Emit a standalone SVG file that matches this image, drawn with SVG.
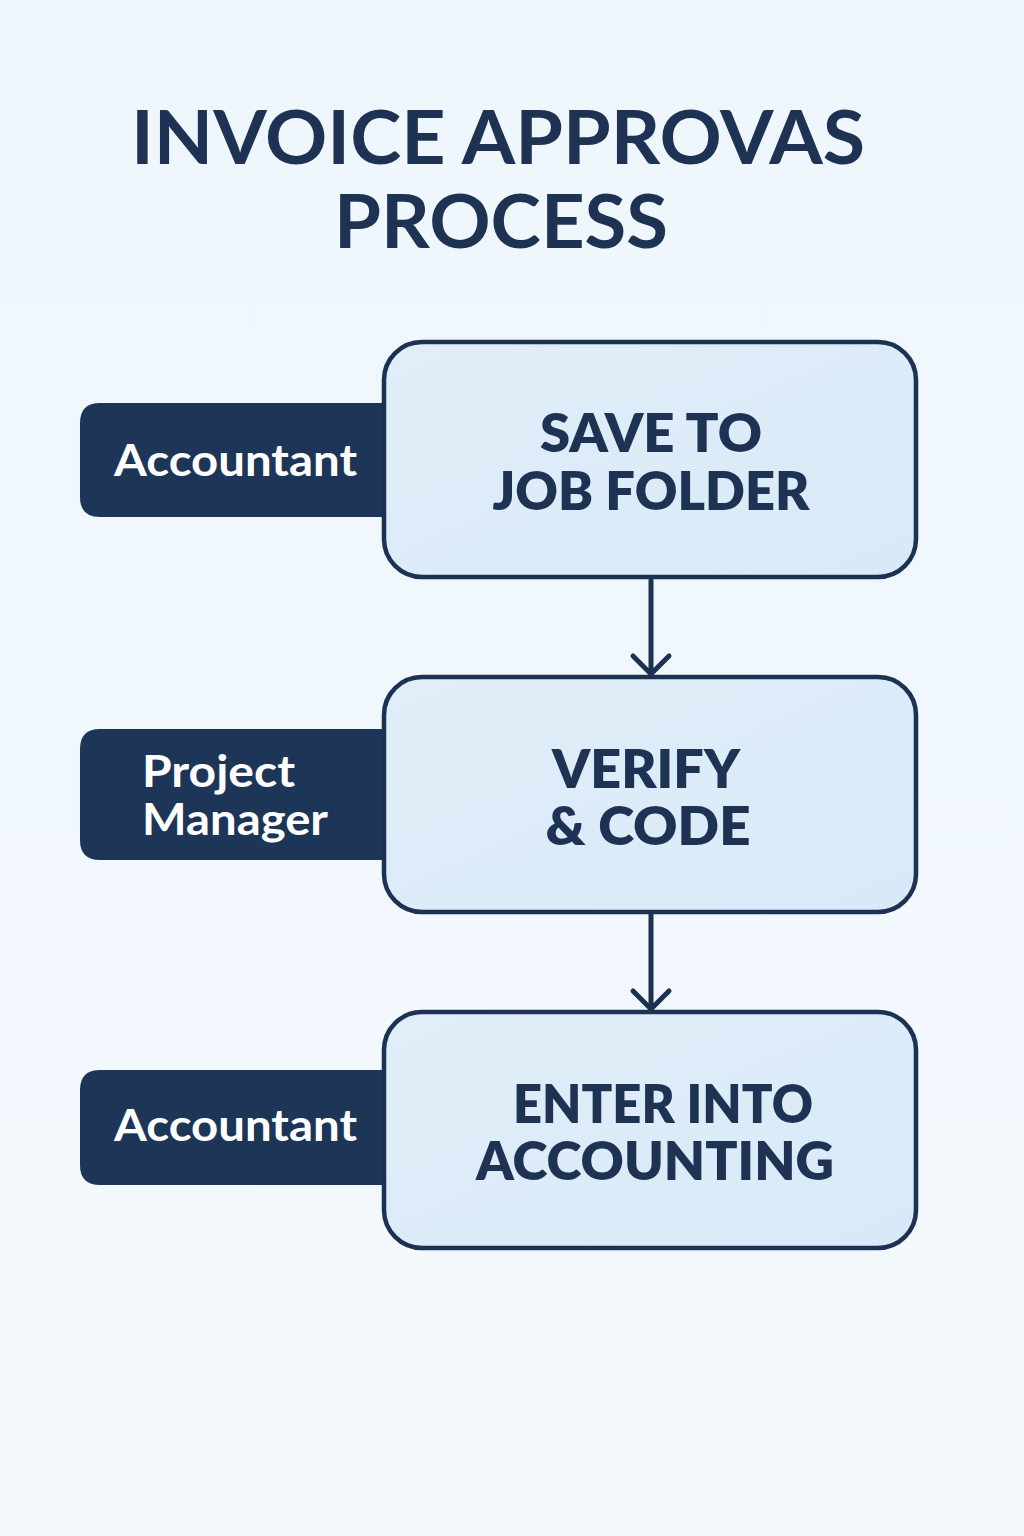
<svg xmlns="http://www.w3.org/2000/svg" width="1024" height="1536" viewBox="0 0 1024 1536">
<defs>
<linearGradient id="bg" x1="0" y1="0" x2="0" y2="1">
<stop offset="0" stop-color="#eef6fc"/>
<stop offset="1" stop-color="#f4f9fd"/>
</linearGradient>
<linearGradient id="boxfill" x1="0" y1="0" x2="1" y2="1">
<stop offset="0" stop-color="#e1eef9"/>
<stop offset="1" stop-color="#d8e9f7"/>
</linearGradient>
</defs>
<style>
.title{font-family:Lato,"Open Sans",sans-serif;font-weight:700;font-size:74px;fill:#1e3354;text-anchor:middle}
.box{fill:url(#boxfill);stroke:#1c3253;stroke-width:4.5}
.tab{fill:#1d3557}
.btext{font-family:Lato,"Open Sans",sans-serif;font-weight:800;font-size:52px;fill:#1e3354;text-anchor:middle}
.ttext{font-family:Lato,"Open Sans",sans-serif;font-weight:700;font-size:44px;fill:#ffffff}
.conn{stroke:#1c3253;stroke-width:5;fill:none;stroke-linecap:round;stroke-linejoin:round}
</style>
<rect width="1024" height="1536" fill="url(#bg)"/>
<g id="title">
<text class="title" x="498" y="164" textLength="734" lengthAdjust="spacingAndGlyphs">INVOICE APPROVAS</text>
<text class="title" x="501" y="248" textLength="334" lengthAdjust="spacingAndGlyphs">PROCESS</text>
</g>
<g id="connectors">
<path class="conn" d="M651 580 V674"/>
<path class="conn" d="M633 656 L651 674 L669 656"/>
<path class="conn" d="M651 915 V1009"/>
<path class="conn" d="M633 991 L651 1009 L669 991"/>
</g>
<g id="node1">
<path class="tab" d="M100 403 H390 V517 H100 Q80 517 80 497 V423 Q80 403 100 403 Z"/>
<rect class="box" x="384" y="342" width="532" height="235" rx="38"/>
<text class="ttext" x="114" y="476" textLength="243" lengthAdjust="spacingAndGlyphs">Accountant</text>
<text class="btext" x="651" y="452" textLength="222" lengthAdjust="spacingAndGlyphs">SAVE TO</text>
<text class="btext" x="651" y="510" textLength="317" lengthAdjust="spacingAndGlyphs">JOB FOLDER</text>
</g>
<g id="node2">
<path class="tab" d="M100 729 H390 V860 H100 Q80 860 80 840 V749 Q80 729 100 729 Z"/>
<rect class="box" x="384" y="677" width="532" height="235" rx="38"/>
<text class="ttext" x="142" y="787" textLength="153" lengthAdjust="spacingAndGlyphs">Project</text>
<text class="ttext" x="142" y="835" textLength="186" lengthAdjust="spacingAndGlyphs">Manager</text>
<text class="btext" x="646" y="788" textLength="188" lengthAdjust="spacingAndGlyphs">VERIFY</text>
<text class="btext" x="648" y="845" textLength="205" lengthAdjust="spacingAndGlyphs">&amp; CODE</text>
</g>
<g id="node3">
<path class="tab" d="M100 1070 H390 V1185 H100 Q80 1185 80 1165 V1090 Q80 1070 100 1070 Z"/>
<rect class="box" x="384" y="1012" width="532" height="236" rx="38"/>
<text class="ttext" x="114" y="1141" textLength="243" lengthAdjust="spacingAndGlyphs">Accountant</text>
<text class="btext" x="663" y="1123" textLength="300" lengthAdjust="spacingAndGlyphs">ENTER INTO</text>
<text class="btext" x="655" y="1180" textLength="358" lengthAdjust="spacingAndGlyphs">ACCOUNTING</text>
</g>
</svg>
